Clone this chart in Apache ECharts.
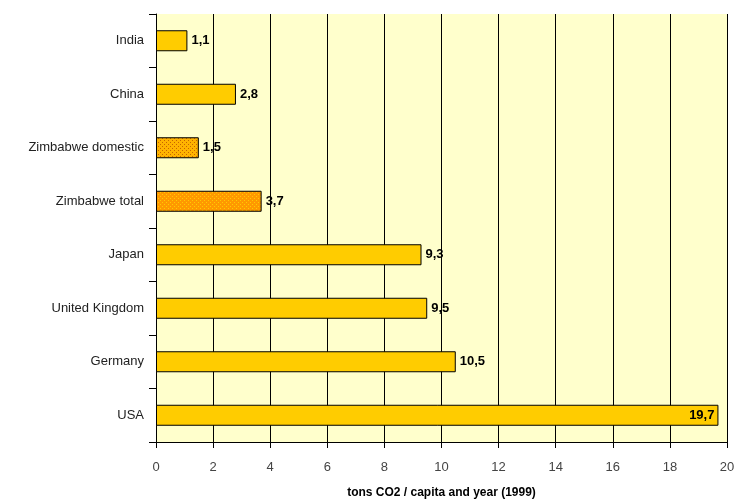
<!DOCTYPE html>
<html>
<head>
<meta charset="utf-8">
<script src="https://cdn.jsdelivr.net/npm/echarts@6/dist/echarts.min.js"></script>
<style>
  html, body { margin: 0; padding: 0; background: #fff; }
  #chart { width: 734px; height: 502px; }
</style>
</head>
<body>
<div id="chart"></div>
<script>
// data, top to bottom as in the picture
const countries = ["India", "China", "Zimbabwe domestic", "Zimbabwe total", "Japan", "United Kingdom", "Germany", "USA"];
const emissions = [1.1, 2.8, 1.5, 3.7, 9.3, 9.5, 10.5, 19.7];
const xTicks = [0, 2, 4, 6, 8, 10, 12, 14, 16, 18, 20];

// dotted fill used for the two Zimbabwe bars
function makePattern(base, dot) {
  const c = document.createElement("canvas");
  c.width = 4;
  c.height = 4;
  const ctx = c.getContext("2d");
  ctx.fillStyle = base;
  ctx.fillRect(0, 0, 4, 4);
  ctx.fillStyle = dot;
  ctx.fillRect(0, 0, 1, 1);
  ctx.fillRect(2, 2, 1, 1);
  return { image: c, repeat: "repeat" };
}

const barColors = {
  "Zimbabwe domestic": makePattern("#FFB400", "#C86400"),
  "Zimbabwe total": makePattern("#FF9900", "#FFCC00")
};

const chart = echarts.init(document.getElementById("chart"));
const option = {
  animation: false,
  textStyle: { fontFamily: "Liberation Sans, Arial, sans-serif" },
  grid: {
    left: 156,
    right: 7,
    top: 14,
    bottom: 60,
    outerBoundsMode: "none",
    containLabel: false,
    show: true,
    backgroundColor: "#FFFFCC",
    borderWidth: 0
  },
  xAxis: {
    type: "value",
    min: 0,
    max: 20,
    interval: 2,
    name: "tons CO2 / capita and year (1999)",
    nameLocation: "middle",
    nameGap: 45,
    nameTextStyle: { fontWeight: "bold", fontSize: 12, color: "#000" },
    axisLine: { show: true, lineStyle: { color: "#000" } },
    axisTick: { show: true, length: 6, inside: false, lineStyle: { color: "#000" } },
    axisLabel: {
      color: "#444",
      fontSize: 13,
      margin: 19,
      formatter: v => (xTicks.indexOf(v) >= 0 ? String(v) : "")
    },
    splitLine: { show: true, lineStyle: { color: "#000", width: 1 } }
  },
  yAxis: {
    type: "category",
    inverse: true,
    data: countries,
    axisLine: { show: true, lineStyle: { color: "#000" } },
    axisTick: { show: true, length: 7, lineStyle: { color: "#000" } },
    axisLabel: { color: "#222", fontSize: 13, margin: 12 },
    splitLine: { show: false }
  },
  series: [
    {
      type: "bar",
      data: emissions.map((v, i) => ({
        value: v,
        itemStyle: barColors[countries[i]] ? { color: barColors[countries[i]] } : undefined,
        label: v > 15 ? { position: "insideRight", distance: 4 } : undefined
      })),
      barWidth: 21,
      itemStyle: { color: "#FFCC00", borderColor: "#000", borderWidth: 1 },
      label: {
        show: true,
        position: "right",
        distance: 4,
        fontWeight: "bold",
        fontSize: 13,
        color: "#000",
        formatter: p => String(p.value).replace(".", ",")
      }
    }
  ]
};
chart.setOption(option);
</script>
</body>
</html>
